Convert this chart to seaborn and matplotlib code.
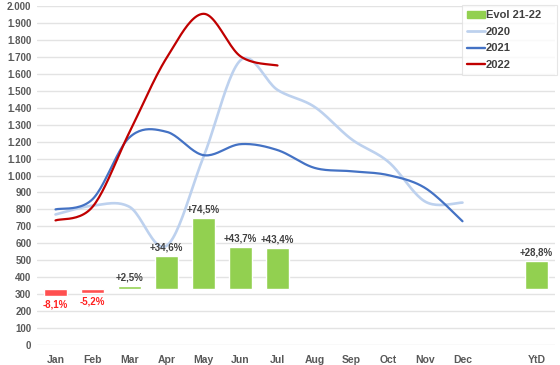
import numpy as np
import pandas as pd
import matplotlib
matplotlib.use("Agg")
import matplotlib.pyplot as plt
import seaborn as sns
from matplotlib.patches import Patch
from matplotlib.lines import Line2D

# ---- data ----
categories = ["Jan", "Feb", "Mar", "Apr", "May", "Jun", "Jul", "Aug",
              "Sep", "Oct", "Nov", "Dec", "", "YtD"]
months = categories[:12]
v2020 = [770, 822, 815, 585, 1110, 1680, 1505, 1405, 1214, 1080, 845, 840]
v2021 = [800, 860, 1225, 1258, 1120, 1185, 1150, 1045, 1025, 1002, 925, 730]
v2022 = [735, 815, 1256, 1693, 1954, 1703, 1649]
evol_cats = ["Jan", "Feb", "Mar", "Apr", "May", "Jun", "Jul", "YtD"]
evol_vals = [-0.081, -0.052, 0.025, 0.346, 0.745, 0.437, 0.434, 0.288]
evol_labels = ["-8,1%", "-5,2%", "+2,5%", "+34,6%", "+74,5%", "+43,7%", "+43,4%", "+28,8%"]
legend_labels = ["Evol 21-22", "2020", "2021", "2022"]

C2020, C2021, C2022 = "#BDD1EE", "#4472C4", "#C00000"
CPOS, CNEG = "#92D050", "#FF5050"
TXT = "#595959"

sns.set_theme(style="white")
plt.rcParams["font.family"] = ["Liberation Sans", "DejaVu Sans"]
plt.rcParams["font.weight"] = "bold"


def smooth(vals, n=24):
    """Excel-like smoothed curve (Catmull-Rom / Bezier) through the points."""
    y = np.asarray(vals, float)
    x = np.arange(len(y), dtype=float)
    xs, ys = [], []
    t = np.linspace(0, 1, n)
    for i in range(len(y) - 1):
        i0, i3 = max(i - 1, 0), min(i + 2, len(y) - 1)
        for arr, out in ((x, xs), (y, ys)):
            p0, p1, p2, p3 = arr[i0], arr[i], arr[i + 1], arr[i3]
            c1 = p1 + (p2 - p0) / 6
            c2 = p2 - (p3 - p1) / 6
            b = ((1 - t) ** 3 * p1 + 3 * (1 - t) ** 2 * t * c1
                 + 3 * (1 - t) * t ** 2 * c2 + t ** 3 * p2)
            out.extend(b if i == 0 else b[1:])
    return np.array(xs), np.array(ys)


fig = plt.figure(figsize=(5.6, 3.65), dpi=100)
ax = fig.add_axes([37 / 560, 1 - 345 / 365, 518 / 560, 339 / 365])
ax2 = ax.twinx()

# lines on primary axis
for vals, col, lw in ((v2020, C2020, 1.9), (v2021, C2021, 1.6), (v2022, C2022, 1.6)):
    xs, ys = smooth(vals)
    sns.lineplot(x=xs, y=ys, color=col, lw=lw, ax=ax, sort=False,
                 estimator=None, zorder=3)

ax.set_xlim(-0.5, len(categories) - 0.5)
ax.set_ylim(0, 2000)
ax.set_yticks(np.arange(0, 2001, 100))
ax.set_yticklabels([f"{v:,.0f}".replace(",", ".") for v in range(0, 2001, 100)],
                   fontsize=7, fontweight="bold", color=TXT)
ax.set_xticks(range(len(categories)))
ax.set_xticklabels(categories, fontsize=7.5, fontweight="bold", color=TXT)
ax.tick_params(axis="both", length=0, pad=4)
ax.tick_params(axis="x", pad=7)
ax.yaxis.grid(True, color="#E3E3E3", lw=1)
ax.set_axisbelow(True)
for s in ax.spines.values():
    s.set_visible(False)
ax.set_xlabel("")
ax.set_ylabel("")

# bars on secondary (hidden) axis, drawn above lines/grid
bars_df = pd.DataFrame({"cat": evol_cats, "val": evol_vals,
                        "sign": ["pos" if v >= 0 else "neg" for v in evol_vals]})
sns.barplot(data=bars_df, x="cat", y="val", hue="sign", order=categories,
            palette={"pos": CPOS, "neg": CNEG}, dodge=False, width=0.6,
            legend=False, ax=ax2, saturation=1)
ax2.set_xlim(-0.5, len(categories) - 0.5)
ax2.set_ylim(-0.6, 3.0)
ax2.set_axis_off()

for cat, v, lab in zip(evol_cats, evol_vals, evol_labels):
    xi = categories.index(cat)
    if v >= 0:
        ax2.annotate(lab, (xi, v), xytext=(0, 2.5), textcoords="offset points",
                     ha="center", va="bottom", fontsize=7, fontweight="bold",
                     color="#404040")
    else:
        ax2.annotate(lab, (xi, v), xytext=(0, -2.5), textcoords="offset points",
                     ha="center", va="top", fontsize=7, fontweight="bold",
                     color="#FF2020")

handles = [Patch(facecolor=CPOS, edgecolor=CPOS),
           Line2D([], [], color=C2020, lw=2.0),
           Line2D([], [], color=C2021, lw=1.7),
           Line2D([], [], color=C2022, lw=1.7)]
leg = fig.legend(handles, legend_labels,
                 loc="upper left",
                 bbox_to_anchor=(462 / 560, 1 - 71 / 365, 95 / 560, 66 / 365),
                 mode="expand", fontsize=8, frameon=True, fancybox=False,
                 handlelength=1.6, handleheight=0.6, handletextpad=0.1,
                 labelspacing=0.6, borderpad=0.45, borderaxespad=0)
leg.get_frame().set_edgecolor("#E0E0E0")
leg.get_frame().set_linewidth(0.8)
for t in leg.get_texts():
    t.set_color("#404040")
    t.set_fontweight("bold")

fig.savefig("out.png", dpi=100)
